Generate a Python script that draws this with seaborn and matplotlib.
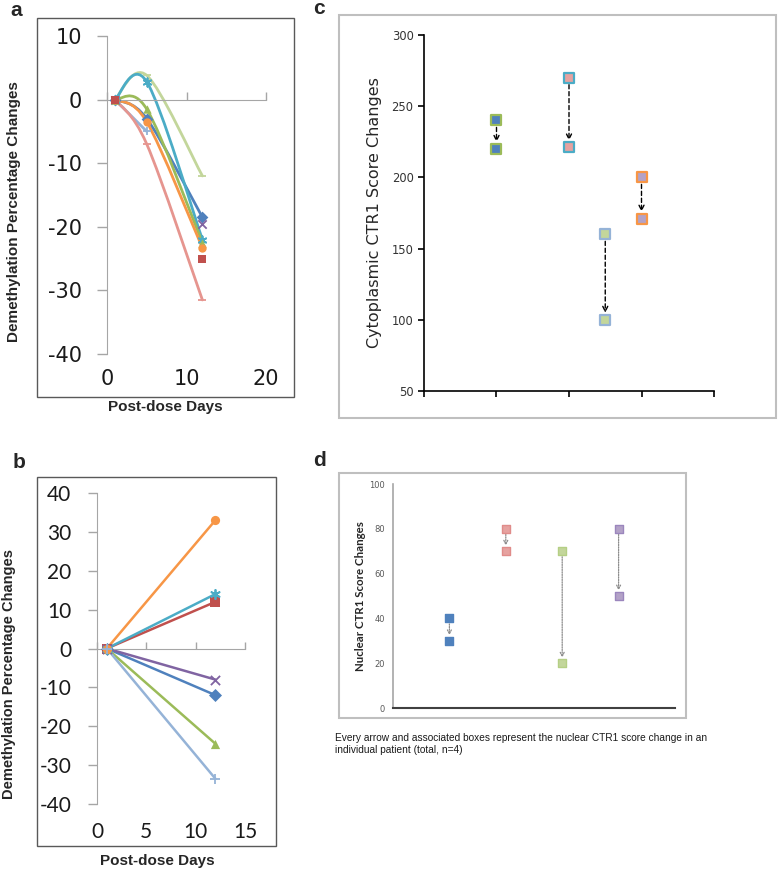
import numpy as np
import pandas as pd
import matplotlib
matplotlib.use('Agg')
import matplotlib.pyplot as plt
from matplotlib.path import Path
from matplotlib.patches import PathPatch, Rectangle
import seaborn as sns

#%% data

# panel a: demethylation % change (days 1, 5, 12), nan = no value
days_a = [1, 5, 12]
a_p1 = [0, -3.0, -18.5]
a_p2 = [0, np.nan, -25.0]
a_p3 = [0, -1.5, -22.5]
a_p4 = [0, np.nan, -19.5]
a_p5 = [0, 2.8, -22.0]
a_p6 = [0, -3.5, -23.3]
a_p7 = [0, -5.0, np.nan]
a_p8 = [0, -7.0, -31.5]
a_p9 = [0, 3.8, -12.0]

# panel b: demethylation % change (days 1, 12)
days_b = [1, 12]
b_p1 = [0, -12]
b_p2 = [0, 12]
b_p3 = [0, -24.5]
b_p4 = [0, -8]
b_p5 = [0, 14]
b_p6 = [0, 33]
b_p7 = [0, -33.5]

# panel c: cytoplasmic CTR1 score, before -> after
c_pos = [1, 2, 2.5, 3]
c_before = [240, 270, 160, 200]
c_after = [220, 221, 100, 171]

# panel d: nuclear CTR1 score, before -> after
d_pos = [1, 2, 3, 4]
d_before = [40, 80, 70, 80]
d_after = [30, 70, 20, 50]

caption = ('Every arrow and associated boxes represent the nuclear CTR1 score change in an\n'
           'individual patient (total, n=4)')

#%% styles

excel = ['#4F81BD', '#C0504D', '#9BBB59', '#8064A2', '#4BACC6', '#F79646',
         '#95B3D7', '#E6958F', '#C3D69B']
markers = ['D', 's', '^', 'x', (6, 2, 0), 'o', '+', '_', '_']
line_markers = ['x', '+', '_', (6, 2, 0)]

W, H = 778, 871
sns.set_style('white')
plt.rcParams['font.family'] = ['Liberation Sans', 'DejaVu Sans']

fig = plt.figure(figsize=(W / 100, H / 100), dpi=100)


def box(x0, y0, x1, y1):
    return [x0 / W, 1 - y1 / H, (x1 - x0) / W, (y1 - y0) / H]


def frame(x0, y0, x1, y1, color, lw):
    fig.patches.append(Rectangle((x0 / W, 1 - y1 / H), (x1 - x0) / W, (y1 - y0) / H,
                                 transform=fig.transFigure, fill=False,
                                 edgecolor=color, linewidth=lw))


def ftext(x, y, s, **kw):
    fig.text(x / W, 1 - y / H, s, **kw)


def smooth_runs(xs, ys):
    # excel-like smoothed line, broken at missing values
    runs, cur = [], []
    for a, b in zip(xs, ys):
        if np.isnan(b):
            if cur:
                runs.append(cur)
            cur = []
        else:
            cur.append((a, b))
    if cur:
        runs.append(cur)
    paths = []
    for run in runs:
        pts = np.array(run, float)
        n = len(pts)
        if n < 2:
            continue
        verts, codes = [pts[0]], [Path.MOVETO]
        for i in range(n - 1):
            p0 = pts[i - 1] if i > 0 else pts[i]
            p1, p2 = pts[i], pts[i + 1]
            p3 = pts[i + 2] if i + 2 < n else pts[i + 1]
            verts += [p1 + (p2 - p0) / 6, p2 - (p3 - p1) / 6, p2]
            codes += [Path.CURVE4] * 3
        paths.append(Path(verts, codes))
    return paths


def excel_axes(ax, xticks, yticks, xlim, ylim, font, size, ypad, xpad, ticklen):
    ax.set_xlim(*xlim)
    ax.set_ylim(*ylim)
    for s in ['top', 'right']:
        ax.spines[s].set_visible(False)
    ax.spines['left'].set_color('#a6a6a6')
    ax.spines['bottom'].set_color('#a6a6a6')
    ax.spines['bottom'].set_position(('data', 0))
    ax.set_yticks(yticks)
    ax.set_yticklabels([str(t) for t in yticks], family=font, fontsize=size, color='#1a1a1a')
    ax.set_xticks(xticks)
    ax.tick_params(axis='y', direction='out', length=ticklen, color='#a6a6a6', width=1,
                   pad=ypad, left=True)
    ax.tick_params(axis='x', direction='in', length=ticklen * 0.8, color='#a6a6a6', width=1,
                   labelbottom=False, bottom=True)
    sec = ax.secondary_xaxis(0)
    sec.set_xticks(xticks)
    sec.set_xticklabels([str(t) for t in xticks], family=font, fontsize=size, color='#1a1a1a')
    sec.tick_params(length=0, pad=xpad)
    sec.spines['bottom'].set_visible(False)


#%% panel a

ax_a = fig.add_axes(box(107, 36, 266, 354))
excel_axes(ax_a, [0, 10, 20], [10, 0, -10, -20, -30, -40], (0, 20), (-40, 10),
           'DejaVu Sans', 15, 11, 11, 7)
series_a = [a_p1, a_p2, a_p3, a_p4, a_p5, a_p6, a_p7, a_p8, a_p9]
order = [8, 6, 7, 0, 3, 4, 2, 5, 1]
for i in order:
    vals = series_a[i]
    for path in smooth_runs(days_a, vals):
        ax_a.add_patch(PathPatch(path, fill=False, edgecolor=excel[i], linewidth=2.0,
                                 capstyle='round', joinstyle='round'))
    sns.scatterplot(x=days_a, y=vals, ax=ax_a, marker=markers[i], color=excel[i],
                    s=36, linewidth=1.3 if markers[i] in line_markers else 0,
                    edgecolor=excel[i], zorder=3, legend=False)
frame(37, 18, 294, 397, '#595959', 1.0)
ftext(10, 10, 'a', fontsize=15, fontweight='bold', ha='left', va='center')
ftext(14, 212, 'Demethylation Percentage Changes', rotation=90, fontsize=11,
      fontweight='bold', ha='center', va='center')
ftext(165, 407, 'Post-dose Days', fontsize=11, fontweight='bold', ha='center', va='center')

#%% panel b

ax_b = fig.add_axes(box(97, 493, 245, 804))
excel_axes(ax_b, [0, 5, 10, 15], [40, 30, 20, 10, 0, -10, -20, -30, -40], (0, 15), (-40, 40),
           'Lato', 15, 12, 13, 6.5)
series_b = [b_p1, b_p2, b_p3, b_p4, b_p5, b_p6, b_p7]
for i, vals in enumerate(series_b):
    sns.lineplot(x=days_b, y=vals, ax=ax_b, color=excel[i], linewidth=1.8, zorder=2)
    sns.scatterplot(x=days_b, y=vals, ax=ax_b, marker=markers[i], color=excel[i],
                    s=44, linewidth=1.3 if markers[i] in line_markers else 0,
                    edgecolor=excel[i], zorder=3, legend=False)
frame(37, 477, 276, 846, '#595959', 1.0)
ftext(13, 462, 'b', fontsize=15, fontweight='bold', ha='left', va='center')
ftext(9, 674, 'Demethylation Percentage Changes', rotation=90, fontsize=10.5,
      fontweight='bold', ha='center', va='center')
ftext(157, 861, 'Post-dose Days', fontsize=11, fontweight='bold', ha='center', va='center')

#%% panel c

c_face = ['#4F81BD', '#E6A2A0', '#C3D69B', '#B3A2C7']
c_edge = ['#9BBB59', '#4BACC6', '#95B3D7', '#F79646']
ax_c = fig.add_axes(box(424, 35, 714, 391))
ax_c.set_xlim(0, 4)
ax_c.set_ylim(50, 300)
for i in range(len(c_pos)):
    ax_c.annotate('', xy=(c_pos[i], c_after[i]), xytext=(c_pos[i], c_before[i]),
                  arrowprops=dict(arrowstyle='->', linestyle=(0, (3, 2)), color='black',
                                  lw=1.0, shrinkA=5, shrinkB=5, mutation_scale=9))
    sns.scatterplot(x=[c_pos[i], c_pos[i]], y=[c_before[i], c_after[i]], ax=ax_c,
                    marker='s', s=55, color=c_face[i], edgecolor=c_edge[i], linewidth=1.6,
                    zorder=3, legend=False)
ax_c.set_xticks([0, 1, 2, 3, 4])
ax_c.set_xticklabels([])
ax_c.set_yticks([50, 100, 150, 200, 250, 300])
ax_c.set_yticklabels(['50', '100', '150', '200', '250', '300'], family='DejaVu Sans',
                     fontsize=8.3, color='#333333')
ax_c.tick_params(direction='out', length=4, width=1.2, color='black', left=True, bottom=True)
for s in ['top', 'right']:
    ax_c.spines[s].set_visible(False)
for s in ['left', 'bottom']:
    ax_c.spines[s].set_color('black')
    ax_c.spines[s].set_linewidth(1.2)
frame(339, 15, 776, 418, '#bfbfbf', 1.5)
ftext(319, 9, 'c', fontsize=15, fontweight='bold', ha='center', va='center')
ftext(375, 213, 'Cytoplasmic CTR1 Score Changes', rotation=90, fontsize=11.5,
      family='DejaVu Sans', ha='center', va='center')

#%% panel d

d_face = ['#4F81BD', '#E6A2A0', '#C3D69B', '#B3A2C7']
d_edge = ['#4F81BD', '#E08C8A', '#B5CF85', '#9B86BD']
ax_d = fig.add_axes(box(393, 484, 675, 708))
ax_d.set_xlim(0, 5)
ax_d.set_ylim(0, 100)
for i in range(len(d_pos)):
    ax_d.annotate('', xy=(d_pos[i], d_after[i]), xytext=(d_pos[i], d_before[i]),
                  arrowprops=dict(arrowstyle='->', linestyle=(0, (1, 1)), color='#8c8c8c',
                                  lw=0.9, shrinkA=4, shrinkB=4, mutation_scale=7))
    sns.scatterplot(x=[d_pos[i], d_pos[i]], y=[d_before[i], d_after[i]], ax=ax_d,
                    marker='s', s=32, color=d_face[i], edgecolor=d_edge[i], linewidth=1.0,
                    zorder=3, legend=False)
ax_d.set_xticks([])
ax_d.set_yticks([0, 20, 40, 60, 80, 100])
ax_d.set_yticklabels(['0', '20', '40', '60', '80', '100'], family='DejaVu Sans',
                     fontsize=6, color='#595959')
ax_d.tick_params(axis='y', length=0, pad=6)
for s in ['top', 'right']:
    ax_d.spines[s].set_visible(False)
ax_d.spines['left'].set_color('#a6a6a6')
ax_d.spines['left'].set_linewidth(1.2)
ax_d.spines['bottom'].set_color('#404040')
ax_d.spines['bottom'].set_linewidth(1.5)
frame(339, 473, 686, 718, '#bfbfbf', 1.5)
ftext(320, 460, 'd', fontsize=15, fontweight='bold', ha='center', va='center')
ftext(360, 596, 'Nuclear CTR1 Score Changes', rotation=90, fontsize=8.3,
      family='Lato', fontweight='bold', ha='center', va='center')

ftext(335, 733, caption, fontsize=7.3, ha='left', va='top', linespacing=1.3, color='#1a1a1a')

fig.savefig('out.png', dpi=100)
